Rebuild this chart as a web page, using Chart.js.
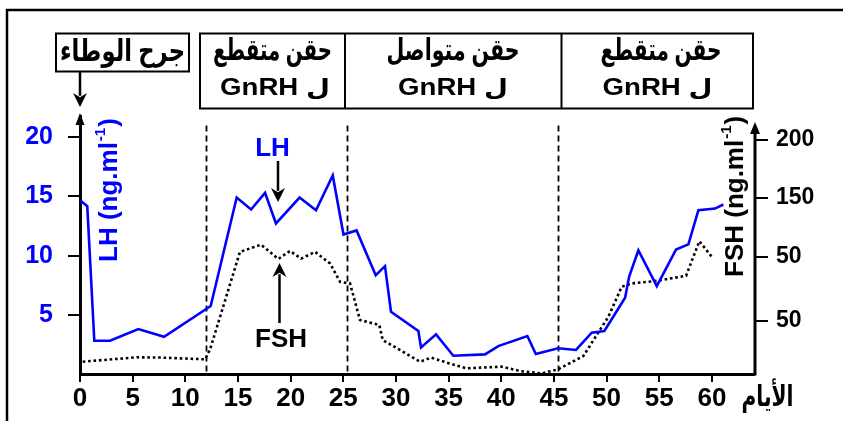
<!DOCTYPE html>
<html><head><meta charset="utf-8">
<script src="https://cdn.jsdelivr.net/npm/chart.js@4.4.1/dist/chart.umd.min.js"></script>
<style>html,body{margin:0;padding:0;background:#fff;}#wrap{width:843px;height:421px;}</style>
</head><body><div id="wrap"><canvas id="c" width="843" height="421"></canvas></div>
<script>
// ---- data ----
const lhDays   = [0, 0.69, 1.36, 2.85, 5.54, 7.98, 12.41, 14.88, 16.24, 17.57, 18.61, 20.85, 22.41, 24.0, 25.02, 26.26, 28.08, 28.96, 29.53, 32.13, 32.38, 33.81, 35.45, 38.46, 39.72, 42.48, 43.28, 45.39, 47.1, 48.59, 49.79, 51.76, 52.14, 53.02, 54.77, 56.6, 57.77, 58.72, 60.3, 61.09];
const lhValues = [14.68, 14.18, 2.81, 2.81, 3.80, 3.15, 5.74, 14.91, 13.90, 15.30, 12.72, 14.91, 13.84, 16.77, 11.79, 12.13, 8.35, 9.11, 5.26, 3.63, 2.25, 3.35, 1.54, 1.66, 2.36, 3.21, 1.69, 2.17, 2.03, 3.49, 3.63, 6.44, 8.21, 10.46, 7.43, 10.52, 10.95, 13.84, 13.98, 14.32];
const fshDays   = [0.26, 5.38, 7.6, 11.87, 12.35, 15.19, 17.19, 18.83, 19.94, 20.99, 22.32, 23.74, 24.69, 25.64, 26.59, 28.42, 28.75, 32.29, 33.33, 35.3, 36.72, 40.05, 41.79, 43.85, 45.42, 47.8, 50.17, 51.44, 52.39, 54.77, 57.55, 58.81, 59.99];
const fshValues = [1.04, 1.41, 1.39, 1.24, 2.08, 10.32, 10.93, 9.72, 10.40, 9.75, 10.32, 9.34, 7.79, 7.65, 4.56, 4.14, 2.87, 1.04, 1.38, 0.84, 0.48, 0.62, 0.25, 0.05, 0.40, 1.52, 4.84, 7.37, 7.65, 7.87, 8.30, 11.22, 9.90];
const xTicks = [0, 5, 10, 15, 20, 25, 30, 35, 40, 45, 50, 55, 60];
const leftTicks = [5, 10, 15, 20];
const rightTickValues = [4.5, 9.9, 14.9, 19.8];
const rightTickLabels = ['50', '50', '150', '200'];
const phaseLines = [12.0, 25.4, 45.4];
const phaseTop = 21;
const phaseTitles = [['حقن متقطع', 'GnRH ل'], ['حقن متواصل', 'GnRH ل'], ['حقن متقطع', 'GnRH ل']];
const startLabel = 'جرح الوطاء';
const xTitle = 'الأيام';
const lhTitle = ['LH (ng.ml', '-1', ')'];
const fshTitle = ['FSH (ng.ml', '-1', ')'];

const FONT = "'Liberation Sans', 'DejaVu Sans', Arial, sans-serif";
const BLUE = '#0000ff';

function txt(ctx, s, cx, by, size, color, targetW, sxFixed) {
  ctx.save();
  ctx.font = `bold ${size}px ${FONT}`;
  const w = ctx.measureText(s).width;
  const sx = targetW ? targetW / w : (sxFixed || 1);
  ctx.translate(cx, by);
  ctx.scale(sx, 1);
  ctx.textAlign = 'center';
  ctx.textBaseline = 'alphabetic';
  ctx.fillStyle = color;
  ctx.fillText(s, 0, 0);
  ctx.restore();
}
function vArrow(ctx, x, yFrom, yTip, hw, hl, lw) {
  ctx.save();
  ctx.strokeStyle = '#000'; ctx.fillStyle = '#000'; ctx.lineWidth = lw;
  const dir = yTip > yFrom ? 1 : -1;
  ctx.beginPath(); ctx.moveTo(x, yFrom); ctx.lineTo(x, yTip - dir * hl * 0.8); ctx.stroke();
  ctx.beginPath(); ctx.moveTo(x, yTip); ctx.lineTo(x - hw, yTip - dir * hl); ctx.lineTo(x, yTip - dir * hl * 0.7); ctx.lineTo(x + hw, yTip - dir * hl); ctx.closePath(); ctx.fill();
  ctx.restore();
}
function vTitle(ctx, parts, x, y, color) {
  ctx.save();
  ctx.translate(x, y); ctx.rotate(-Math.PI / 2);
  ctx.fillStyle = color; ctx.textAlign = 'left'; ctx.textBaseline = 'alphabetic';
  ctx.font = `bold 26px ${FONT}`;
  ctx.fillText(parts[0], 0, 0);
  let w = ctx.measureText(parts[0]).width;
  ctx.font = `bold 15px ${FONT}`;
  ctx.fillText(parts[1], w + 1, -12);
  w += ctx.measureText(parts[1]).width + 2;
  ctx.font = `bold 26px ${FONT}`;
  ctx.fillText(parts[2], w, 0);
  ctx.restore();
}

const decor = {
  id: 'decor',
  beforeDatasetsDraw(chart) {
    const ctx = chart.ctx, xs = chart.scales.x, ys = chart.scales.y;
    ctx.save();
    ctx.strokeStyle = '#000'; ctx.lineWidth = 1.8; ctx.setLineDash([6, 4]);
    phaseLines.forEach(v => {
      const px = Math.round(xs.getPixelForValue(v)) + 0.5;
      ctx.beginPath(); ctx.moveTo(px, ys.getPixelForValue(phaseTop)); ctx.lineTo(px, ys.getPixelForValue(0)); ctx.stroke();
    });
    ctx.restore();
  },
  afterDraw(chart) {
    const ctx = chart.ctx, a = chart.chartArea;
    ctx.save();
    // outer frame
    ctx.strokeStyle = '#000'; ctx.lineWidth = 2.5;
    ctx.beginPath(); ctx.moveTo(843, 10); ctx.lineTo(7, 10); ctx.lineTo(7, 421); ctx.stroke();
    // boxes
    ctx.lineWidth = 2;
    ctx.strokeRect(56, 33.5, 133, 38);
    ctx.strokeRect(200, 33.5, 553, 75);
    ctx.beginPath(); ctx.moveTo(345, 33.5); ctx.lineTo(345, 108.5); ctx.moveTo(561.5, 33.5); ctx.lineTo(561.5, 108.5); ctx.stroke();
    txt(ctx, startLabel, 122.5, 61, 30, '#000', 125);
    const centers = [[272.5, 275, 119], [453, 453, 133], [661, 657.5, 121]];
    phaseTitles.forEach((t, i) => {
      const c = centers[i];
      txt(ctx, t[0], c[0], 60, 30, '#000', c[2]);
      txt(ctx, t[1], c[1], 95, 23, '#000', null, 1.2);
    });
    vArrow(ctx, 80, 72, 107, 7, 14, 2.5);
    // axis arrows
    ctx.fillStyle = '#000';
    ctx.beginPath(); ctx.moveTo(80, 113); ctx.lineTo(75.5, 125); ctx.lineTo(84.5, 125); ctx.closePath(); ctx.fill();
    ctx.strokeStyle = '#000'; ctx.lineWidth = 3;
    ctx.beginPath(); ctx.moveTo(755, a.bottom + 1.5); ctx.lineTo(755, 130); ctx.stroke();
    ctx.beginPath(); ctx.moveTo(755, 122); ctx.lineTo(750, 134); ctx.lineTo(760, 134); ctx.closePath(); ctx.fill();
    // axis titles
    vTitle(ctx, lhTitle, 117, 262, BLUE);
    vTitle(ctx, fshTitle, 743, 277, '#000');
    txt(ctx, xTitle, 767.5, 406, 29, '#000', 52);
    // annotations
    txt(ctx, 'LH', 272.5, 156, 26, BLUE);
    vArrow(ctx, 278, 161, 202, 7, 14, 2.5);
    txt(ctx, 'FSH', 281, 347, 26, '#000');
    vArrow(ctx, 279.5, 323, 263, 7, 14, 2.5);
    ctx.restore();
  }
};

new Chart(document.getElementById('c'), {
  type: 'line',
  data: {
    datasets: [
      { label: 'LH', data: lhDays.map((d, i) => ({ x: d, y: lhValues[i] })), borderColor: BLUE, borderWidth: 2.6, pointRadius: 0, tension: 0, yAxisID: 'y', clip: false },
      { label: 'FSH', data: fshDays.map((d, i) => ({ x: d, y: fshValues[i] })), borderColor: '#000', borderWidth: 2.6, borderDash: [2.6, 2.8], pointRadius: 0, tension: 0, yAxisID: 'y2', clip: false }
    ]
  },
  options: {
    responsive: false, animation: false, devicePixelRatio: 1,
    layout: { padding: { top: 116, left: 0, right: 0, bottom: 0 } },
    plugins: { legend: { display: false }, tooltip: { enabled: false } },
    scales: {
      x: {
        type: 'linear', min: 0, max: 64,
        afterBuildTicks: s => { s.ticks = xTicks.map(v => ({ value: v })); },
        afterFit: s => { s.height = 47; },
        grid: { drawOnChartArea: false, tickLength: 8, color: '#000', lineWidth: 2 },
        border: { color: '#000', width: 3 },
        ticks: { color: '#000', font: { family: FONT, size: 26, weight: 'bold' }, padding: 1, maxRotation: 0, autoSkip: false }
      },
      y: {
        position: 'left', min: 0, max: 21.8,
        afterBuildTicks: s => { s.ticks = leftTicks.map(v => ({ value: v })); },
        afterFit: s => { s.width = 80; },
        grid: { drawOnChartArea: false, tickLength: 12, color: '#000', lineWidth: 2 },
        border: { color: '#000', width: 3 },
        ticks: { color: BLUE, font: { family: FONT, size: 25, weight: 'bold' }, padding: 15 }
      },
      y2: {
        position: 'right', min: 0, max: 21.8,
        afterBuildTicks: s => { s.ticks = rightTickValues.map(v => ({ value: v })); },
        afterFit: s => { s.width = 89; },
        grid: { drawOnChartArea: false, tickLength: 14, color: '#000', lineWidth: 2 },
        border: { display: false },
        ticks: { color: '#000', font: { family: FONT, size: 23, weight: 'bold' }, padding: 8, callback: (v, i) => rightTickLabels[i] }
      }
    }
  },
  plugins: [decor]
});
</script></body></html>
